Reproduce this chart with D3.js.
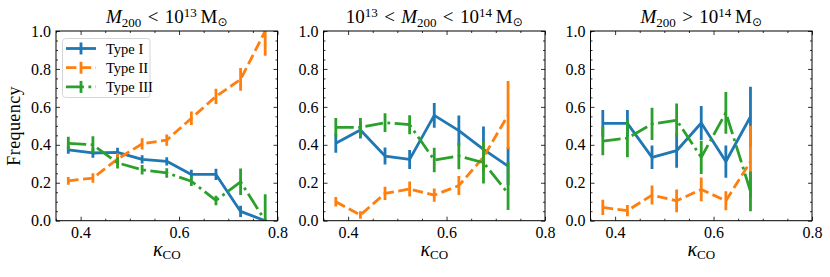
<!DOCTYPE html>
<html>
<head>
<meta charset="utf-8">
<script src="https://cdn.jsdelivr.net/npm/d3@7"></script>
<style>
  body { margin: 0; background: #fff; }
  svg { display: block; }
  text { font-family: "Liberation Serif", "DejaVu Serif", serif; fill: #000; }
</style>
</head>
<body>
<svg id="chart" width="830" height="277"></svg>
<script>
// kappa_co bin centres
var kappa = [0.375, 0.425, 0.475, 0.525, 0.575, 0.625, 0.675, 0.725, 0.775];

// M200 < 1e13
var lowI = [0.373, 0.357, 0.360, 0.323, 0.313, 0.244, 0.244, 0.049, 0.0];
var lowIErr = [0.02, 0.025, 0.025, 0.022, 0.022, 0.025, 0.03, 0.03, 0.01];
var lowII = [0.21, 0.225, 0.325, 0.405, 0.425, 0.54, 0.655, 0.745, 1.0];
var lowIIErr = [0.02, 0.025, 0.03, 0.03, 0.03, 0.035, 0.04, 0.06, 0.13];
var lowIII = [0.408, 0.40, 0.305, 0.268, 0.252, 0.208, 0.107, 0.205, 0.0];
var lowIIIErr = [0.035, 0.045, 0.03, 0.025, 0.025, 0.025, 0.025, 0.07, 0.14];

// 1e13 < M200 < 1e14
var midI = [0.408, 0.478, 0.341, 0.323, 0.555, 0.475, 0.376, 0.288];
var midIErr = [0.05, 0.045, 0.045, 0.05, 0.065, 0.08, 0.12, 0.1];
var midII = [0.10, 0.03, 0.144, 0.167, 0.135, 0.185, 0.335, 0.557];
var midIIErr = [0.025, 0.02, 0.035, 0.04, 0.035, 0.05, 0.08, 0.18];
var midIII = [0.492, 0.492, 0.517, 0.506, 0.32, 0.341, 0.306, 0.144];
var midIIIErr = [0.05, 0.05, 0.05, 0.05, 0.065, 0.07, 0.11, [0.088, 0.166]];

// M200 > 1e14
var highI = [0.513, 0.513, 0.334, 0.369, 0.515, 0.312, 0.548];
var highIErr = [0.07, 0.07, 0.062, 0.09, 0.09, 0.085, 0.158];
var highII = [0.07, 0.053, 0.135, 0.105, 0.165, 0.105, 0.311];
var highIIErr = [0.04, 0.03, 0.05, 0.06, 0.063, 0.05, 0.19];
var highIII = [0.42, 0.435, 0.51, 0.53, 0.334, 0.569, 0.155];
var highIIIErr = [0.075, 0.1, 0.085, 0.088, 0.088, 0.11, 0.105];

var typeNames = ["Type I", "Type II", "Type III"];
var colors = ["#1f77b4", "#ff7f0e", "#2ca02c"];
var lw = 2.8;
var dashes = [null, [3.7 * lw, 1.6 * lw], [6.4 * lw, 1.6 * lw, 1 * lw, 1.6 * lw]];

var xTicks = [0.4, 0.6, 0.8];
var yTicks = [0.0, 0.2, 0.4, 0.6, 0.8, 1.0];

var panels = [
  { left: 56, series: [[lowI, lowIErr], [lowII, lowIIErr], [lowIII, lowIIIErr]] },
  { left: 323.5, series: [[midI, midIErr], [midII, midIIErr], [midIII, midIIIErr]] },
  { left: 590.5, series: [[highI, highIErr], [highII, highIIErr], [highIII, highIIIErr]] }
];

var pw = 221.5, topY = 31, botY = 220.7;
var svg = d3.select("#chart");

var y = d3.scaleLinear().domain([0, 1]).range([botY, topY]);

var sp = "\u2004"; // a bit wider than a normal space round < and >

// M_sun bit at the end of each title
function msun(t) {
  t.append("tspan").attr("dy", 6).text("\u2009M");
  t.append("tspan").style("font-size", "12px").attr("dy", 3).style("font-family", "DejaVu Sans").text("\u2299");
}
function m200(t) {
  t.append("tspan").attr("font-style", "italic").text("M");
  t.append("tspan").style("font-size", "13px").attr("dy", 4).text("200");
}
function titleLow(t) {
  m200(t);
  t.append("tspan").attr("dy", -4).text(sp + "<" + sp + "10");
  t.append("tspan").style("font-size", "13px").attr("dy", -6).text("13");
  msun(t);
}
function titleMid(t) {
  t.append("tspan").text("10");
  t.append("tspan").style("font-size", "13px").attr("dy", -6).text("13");
  t.append("tspan").attr("dy", 6).text(sp + "<" + sp);
  m200(t);
  t.append("tspan").attr("dy", -4).text(sp + "<" + sp + "10");
  t.append("tspan").style("font-size", "13px").attr("dy", -6).text("14");
  msun(t);
}
function titleHigh(t) {
  m200(t);
  t.append("tspan").attr("dy", -4).text(sp + ">" + sp + "10");
  t.append("tspan").style("font-size", "13px").attr("dy", -6).text("14");
  msun(t);
}
var titleFns = [titleLow, titleMid, titleHigh];

function noDomain(a) { a.select(".domain").remove(); }

panels.forEach(function(p, pi) {
  var x = d3.scaleLinear().domain([0.35, 0.8]).range([p.left, p.left + pw]);
  var g = svg.append("g");

  // clip for the data
  g.append("clipPath").attr("id", "clip" + pi)
    .append("rect").attr("x", p.left).attr("y", topY).attr("width", pw).attr("height", botY - topY);

  var data = g.append("g").attr("clip-path", "url(#clip" + pi + ")");

  p.series.forEach(function(s, si) {
    var vals = s[0], errs = s[1];
    var pts = vals.map(function(v, i) {
      var e = errs[i];
      var lo = Array.isArray(e) ? e[0] : e;
      var hi = Array.isArray(e) ? e[1] : e;
      return { k: kappa[i], v: v, lo: v - lo, hi: v + hi };
    });

    // error bars
    data.selectAll(".err" + si)
      .data(pts)
      .enter().append("line")
        .attr("x1", function(d) { return x(d.k); })
        .attr("x2", function(d) { return x(d.k); })
        .attr("y1", function(d) { return y(d.lo); })
        .attr("y2", function(d) { return y(d.hi); })
        .attr("stroke", colors[si])
        .attr("stroke-width", lw);

    var line = d3.line().x(function(d) { return x(d.k); }).y(function(d) { return y(d.v); });
    data.append("path")
      .datum(pts)
      .attr("d", line)
      .attr("fill", "none")
      .attr("stroke", colors[si])
      .attr("stroke-width", lw)
      .attr("stroke-linejoin", "round")
      .attr("stroke-dasharray", dashes[si] ? dashes[si].join(",") : null);
  });

  // axes, ticks inwards on all four sides
  var minorX = d3.range(0.35, 0.801, 0.05).filter(function(v) { return Math.abs(v * 5 - Math.round(v * 5)) > 1e-6; });
  var minorY = d3.range(0, 1.001, 0.05).filter(function(v) { return Math.abs(v * 5 - Math.round(v * 5)) > 1e-6; });

  g.append("g").attr("transform", "translate(0," + botY + ")")
    .call(d3.axisBottom(x).tickValues(xTicks).tickFormat(d3.format(".1f")).tickSize(-4).tickPadding(6)).call(noDomain);
  g.append("g").attr("transform", "translate(0," + botY + ")")
    .call(d3.axisBottom(x).tickValues(minorX).tickFormat("").tickSize(-2)).call(noDomain);
  g.append("g").attr("transform", "translate(0," + topY + ")")
    .call(d3.axisTop(x).tickValues(xTicks).tickFormat("").tickSize(-4)).call(noDomain);
  g.append("g").attr("transform", "translate(0," + topY + ")")
    .call(d3.axisTop(x).tickValues(minorX).tickFormat("").tickSize(-2)).call(noDomain);

  g.append("g").attr("transform", "translate(" + p.left + ",0)")
    .call(d3.axisLeft(y).tickValues(yTicks).tickFormat(d3.format(".1f")).tickSize(-4).tickPadding(5)).call(noDomain);
  g.append("g").attr("transform", "translate(" + p.left + ",0)")
    .call(d3.axisLeft(y).tickValues(minorY).tickFormat("").tickSize(-2)).call(noDomain);
  g.append("g").attr("transform", "translate(" + (p.left + pw) + ",0)")
    .call(d3.axisRight(y).tickValues(yTicks).tickFormat("").tickSize(-4)).call(noDomain);
  g.append("g").attr("transform", "translate(" + (p.left + pw) + ",0)")
    .call(d3.axisRight(y).tickValues(minorY).tickFormat("").tickSize(-2)).call(noDomain);

  g.selectAll(".tick text")
    .style("font-size", "16px")
    .attr("fill", "#000");
  g.selectAll(".tick line").attr("stroke", "#000").attr("stroke-width", 0.8);

  // frame
  g.append("rect")
    .attr("x", p.left).attr("y", topY)
    .attr("width", pw).attr("height", botY - topY)
    .attr("fill", "none").attr("stroke", "#000").attr("stroke-width", 1);

  // title
  var t = g.append("text")
    .attr("x", p.left + pw / 2).attr("y", 23)
    .attr("text-anchor", "middle")
    .style("font-size", "19px");
  titleFns[pi](t);

  // x label
  var xl = g.append("text")
    .attr("x", p.left + pw / 2).attr("y", 256)
    .attr("text-anchor", "middle")
    .style("font-size", "20px");
  xl.append("tspan").attr("font-style", "italic").text("\u03BA");
  xl.append("tspan").style("font-size", "13px").attr("dy", 3).text("CO");
});

// y label
svg.append("text")
  .attr("transform", "translate(20," + ((topY + botY) / 2) + ") rotate(-90)")
  .attr("text-anchor", "middle")
  .style("font-size", "18px")
  .style("letter-spacing", "0.4px")
  .text("Frequency");

// legend (first panel)
var leg = svg.append("g");
leg.append("rect")
  .attr("x", 62.5).attr("y", 38.5)
  .attr("width", 87.5).attr("height", 59)
  .attr("rx", 3)
  .attr("fill", "#fff").attr("fill-opacity", 0.8)
  .attr("stroke", "#d6d6d6").attr("stroke-width", 1);

typeNames.forEach(function(name, i) {
  var ly = 48.5 + i * 19.2;
  leg.append("line")
    .attr("x1", 66).attr("x2", 96)
    .attr("y1", ly).attr("y2", ly)
    .attr("stroke", colors[i]).attr("stroke-width", lw)
    .attr("stroke-dasharray", dashes[i] ? dashes[i].join(",") : null);
  leg.append("line")
    .attr("x1", 81).attr("x2", 81)
    .attr("y1", ly - 6).attr("y2", ly + 6)
    .attr("stroke", colors[i]).attr("stroke-width", lw);
  leg.append("text")
    .attr("x", 106).attr("y", ly + 5)
    .style("font-size", "14.5px")
    .text(name);
});
</script>
</body>
</html>
